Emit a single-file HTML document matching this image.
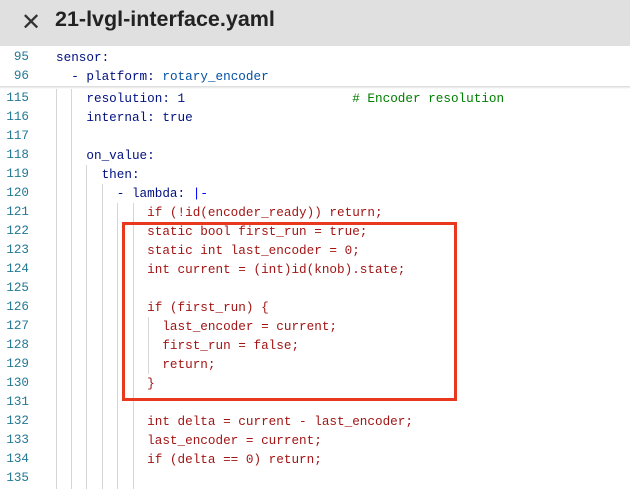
<!DOCTYPE html>
<html><head><meta charset="utf-8"><style>
body{margin:0;width:630px;height:489px;overflow:hidden;background:#fff;position:relative;font-family:"Liberation Mono",monospace}
.hdr{position:absolute;left:0;top:0;width:630px;height:46px;background:#e0e0e0}
.x{position:absolute;left:21px;top:8px;font:24px "Liberation Sans",sans-serif;color:#333}
.t{position:absolute;left:55px;top:7px;font:bold 21.5px "Liberation Sans",sans-serif;color:#222}
.ln{position:absolute;left:0;width:29px;text-align:right;color:#237893;font-size:12.6px;line-height:19px;height:19px}
.cd{position:absolute;left:56px;white-space:pre;font-size:12.67px;line-height:19px;height:19px;color:#001080}
.g{position:absolute;width:1px;background:#d6d6d6}
.b{color:#0451a5}.c{color:#008000}.r{color:#a31515}.d{color:#0000ff}
.sh{position:absolute;left:0;top:86px;width:630px;height:3px;background:linear-gradient(#d8d8d8,#fff)}
.box{position:absolute;left:122px;top:222px;width:329px;height:173px;border:3px solid #e8381d}
</style></head><body>
<div class="hdr"><div class="x">✕</div><div class="t">21-lvgl-interface.yaml</div></div>
<div class="ln" style="top:48px">95</div><div class="cd" style="top:48px">sensor:</div>
<div class="ln" style="top:67px">96</div><div class="cd" style="top:67px">  - platform: <span class="b">rotary_encoder</span></div>
<div class="sh"></div>
<div class="g" style="left:56px;top:89px;height:400px"></div>
<div class="g" style="left:71px;top:89px;height:400px"></div>
<div class="g" style="left:86px;top:165px;height:324px"></div>
<div class="g" style="left:102px;top:184px;height:305px"></div>
<div class="g" style="left:117px;top:203px;height:286px"></div>
<div class="g" style="left:133px;top:203px;height:286px"></div>
<div class="g" style="left:148px;top:317px;height:57px"></div>
<div class="ln" style="top:89px">115</div><div class="cd" style="top:89px">    resolution: 1                      <span class="c"># Encoder resolution</span></div>
<div class="ln" style="top:108px">116</div><div class="cd" style="top:108px">    internal: true</div>
<div class="ln" style="top:127px">117</div>
<div class="ln" style="top:146px">118</div><div class="cd" style="top:146px">    on_value:</div>
<div class="ln" style="top:165px">119</div><div class="cd" style="top:165px">      then:</div>
<div class="ln" style="top:184px">120</div><div class="cd" style="top:184px">        - lambda: <span class="d">|-</span></div>
<div class="ln" style="top:203px">121</div><div class="cd r" style="top:203px">            if (!id(encoder_ready)) return;</div>
<div class="ln" style="top:222px">122</div><div class="cd r" style="top:222px">            static bool first_run = true;</div>
<div class="ln" style="top:241px">123</div><div class="cd r" style="top:241px">            static int last_encoder = 0;</div>
<div class="ln" style="top:260px">124</div><div class="cd r" style="top:260px">            int current = (int)id(knob).state;</div>
<div class="ln" style="top:279px">125</div>
<div class="ln" style="top:298px">126</div><div class="cd r" style="top:298px">            if (first_run) {</div>
<div class="ln" style="top:317px">127</div><div class="cd r" style="top:317px">              last_encoder = current;</div>
<div class="ln" style="top:336px">128</div><div class="cd r" style="top:336px">              first_run = false;</div>
<div class="ln" style="top:355px">129</div><div class="cd r" style="top:355px">              return;</div>
<div class="ln" style="top:374px">130</div><div class="cd r" style="top:374px">            }</div>
<div class="ln" style="top:393px">131</div>
<div class="ln" style="top:412px">132</div><div class="cd r" style="top:412px">            int delta = current - last_encoder;</div>
<div class="ln" style="top:431px">133</div><div class="cd r" style="top:431px">            last_encoder = current;</div>
<div class="ln" style="top:450px">134</div><div class="cd r" style="top:450px">            if (delta == 0) return;</div>
<div class="ln" style="top:469px">135</div>
<div class="box"></div>
</body></html>
